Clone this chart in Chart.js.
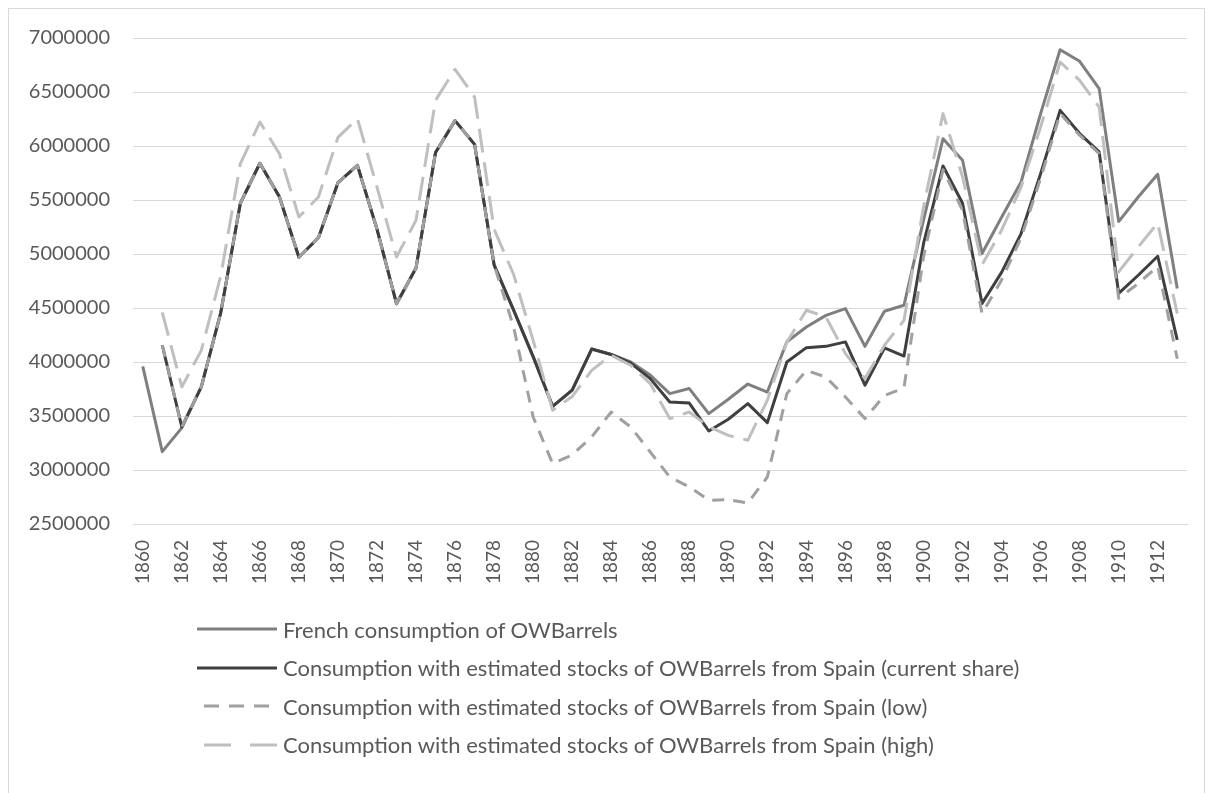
<!DOCTYPE html>
<html>
<head>
<meta charset="utf-8">
<script src="https://cdn.jsdelivr.net/npm/chart.js@4.4.1/dist/chart.umd.min.js"></script>
<style>
  body { margin: 0; background: #fff; font-family: Lato, "Open Sans", sans-serif; }
  #wrap { position: relative; width: 1214px; height: 793px; overflow: hidden; }
  #frame { position: absolute; left: 8px; top: 8px; width: 1197px; height: 800px; border: 1px solid #d9d9d9; box-sizing: border-box; }
  #chart { position: absolute; left: 0; top: 0; }
  #legend { position: absolute; left: 197px; top: 610px; }
  .row { display: flex; align-items: center; height: 38.5px; color: #595959; font-size: 22px; }
  .row svg { margin-right: 6px; }
</style>
</head>
<body>
<div id="wrap">
  <div id="frame"></div>
  <canvas id="chart" width="1214" height="793"></canvas>
  <div id="legend"></div>
</div>
<script>
document.addEventListener('DOMContentLoaded', () => {

// years on the category axis
const years = [1860, 1861, 1862, 1863, 1864, 1865, 1866, 1867, 1868, 1869,
  1870, 1871, 1872, 1873, 1874, 1875, 1876, 1877, 1878, 1879,
  1880, 1881, 1882, 1883, 1884, 1885, 1886, 1887, 1888, 1889,
  1890, 1891, 1892, 1893, 1894, 1895, 1896, 1897, 1898, 1899,
  1900, 1901, 1902, 1903, 1904, 1905, 1906, 1907, 1908, 1909,
  1910, 1911, 1912, 1913];

// French consumption of OWBarrels
const french = [3960000, 3170000, 3390000, 3770000, 4460000, 5470000, 5840000, 5530000, 4970000, 5150000,
  5660000, 5820000, 5230000, 4540000, 4870000, 5940000, 6235000, 6015000, 4900000, 4480000,
  4050000, 3590000, 3740000, 4120000, 4070000, 4000000, 3880000, 3707000, 3754000, 3522000,
  3655000, 3796000, 3722000, 4188000, 4324000, 4432000, 4494000, 4145000, 4470000, 4525000,
  5313000, 6068000, 5868000, 5004000, 5340000, 5667000, 6300000, 6892000, 6784000, 6531000,
  5300000, 5528000, 5738000, 4680000];

// with estimated stocks from Spain (current share)
const current = [null, 4155000, 3400000, 3770000, 4460000, 5470000, 5840000, 5530000, 4970000, 5150000,
  5660000, 5820000, 5230000, 4540000, 4870000, 5940000, 6235000, 6015000, 4900000, 4480000,
  4050000, 3590000, 3740000, 4120000, 4070000, 3990000, 3846000, 3630000, 3620000, 3361000,
  3470000, 3615000, 3439000, 4000000, 4133000, 4145000, 4186000, 3785000, 4130000, 4055000,
  5096000, 5815000, 5470000, 4541000, 4830000, 5189000, 5744000, 6330000, 6115000, 5945000,
  4635000, 4803000, 4979000, 4205000];

// (low)
const low = [null, 4155000, 3400000, 3770000, 4460000, 5470000, 5840000, 5530000, 4970000, 5150000,
  5660000, 5820000, 5230000, 4540000, 4870000, 5940000, 6235000, 6015000, 4900000, 4324000,
  3491000, 3059000, 3140000, 3306000, 3537000, 3398000, 3167000, 2935000, 2843000, 2720000,
  2725000, 2695000, 2935000, 3707000, 3923000, 3861000, 3676000, 3476000, 3690000, 3760000,
  4972000, 5780000, 5404000, 4448000, 4760000, 5150000, 5700000, 6300000, 6100000, 5930000,
  4590000, 4726000, 4886000, 4030000];

// (high)
const high = [null, 4460000, 3769000, 4108000, 4800000, 5837000, 6222000, 5929000, 5343000, 5528000,
  6080000, 6253000, 5620000, 4972000, 5312000, 6423000, 6710000, 6454000, 5230000, 4810000,
  4200000, 3553000, 3680000, 3923000, 4062000, 3970000, 3800000, 3476000, 3537000, 3400000,
  3321000, 3275000, 3646000, 4185000, 4479000, 4417000, 4078000, 3846000, 4155000, 4386000,
  5435000, 6300000, 5715000, 4900000, 5220000, 5620000, 6176000, 6778000, 6608000, 6361000,
  4834000, 5065000, 5287000, 4448000];

const seriesNames = [
  'French consumption of OWBarrels',
  'Consumption with estimated stocks of OWBarrels from Spain (current share)',
  'Consumption with estimated stocks of OWBarrels from Spain (low)',
  'Consumption with estimated stocks of OWBarrels from Spain (high)'
];

const yTicks = [2500000, 3000000, 3500000, 4000000, 4500000, 5000000, 5500000, 6000000, 6500000, 7000000];

const styles = [
  { color: '#7f7f7f', dash: [] },
  { color: '#3f3f3f', dash: [] },
  { color: '#a0a0a0', dash: [12, 9] },
  { color: '#bfbfbf', dash: [24, 10] }
];

//////////////////////// chart ////////////////////////
const seriesData = [french, current, low, high];

const datasets = seriesData.map((d, i) => ({
  label: seriesNames[i],
  data: d,
  borderColor: styles[i].color,
  borderWidth: 3,
  borderDash: styles[i].dash,
  borderCapStyle: 'butt',
  borderJoinStyle: 'round',
  pointRadius: 0,
  tension: 0,
  spanGaps: false,
  fill: false,
  order: 4 - i
}));

const chart = new Chart(document.getElementById('chart'), {
  type: 'line',
  data: { labels: years, datasets: datasets },
  options: {
    responsive: false,
    animation: false,
    layout: { padding: { left: 0, right: 27, top: 38, bottom: 209 } },
    plugins: { legend: { display: false }, tooltip: { enabled: false } },
    scales: {
      x: {
        offset: true,
        grid: { display: false },
        border: { display: true, color: '#d9d9d9', width: 1 },
        ticks: {
          autoSkip: false,
          maxRotation: 90,
          minRotation: 90,
          padding: 8,
          color: '#595959',
          font: { family: 'Lato', size: 19 },
          callback: function (val, idx) { return idx % 2 === 0 ? years[idx] : ''; }
        },
        afterFit: s => { s.height = 60; }
      },
      y: {
        min: 2500000,
        max: 7000000,
        afterBuildTicks: s => { s.ticks = yTicks.map(v => ({ value: v })); },
        grid: { color: '#d9d9d9', lineWidth: 1, drawTicks: false },
        border: { display: false },
        ticks: {
          padding: 23,
          color: '#595959',
          font: { family: 'Lato', size: 20 },
          callback: v => String(v)
        },
        afterFit: s => { s.width = 133; }
      }
    }
  }
});

//////////////////////// legend ////////////////////////
const legend = document.getElementById('legend');
legend.innerHTML = seriesNames.map((name, i) => `
  <div class="row">
    <svg width="80" height="10"><line x1="0" y1="5" x2="80" y2="5" stroke="${styles[i].color}" stroke-width="3"
      stroke-dasharray="${i === 2 ? '15 10' : i === 3 ? '27 19' : 'none'}" stroke-dashoffset="${i === 2 ? -7 : i === 3 ? -7 : 0}"/></svg>
    <span>${name}</span>
  </div>`).join('');

});
</script>
</body>
</html>
